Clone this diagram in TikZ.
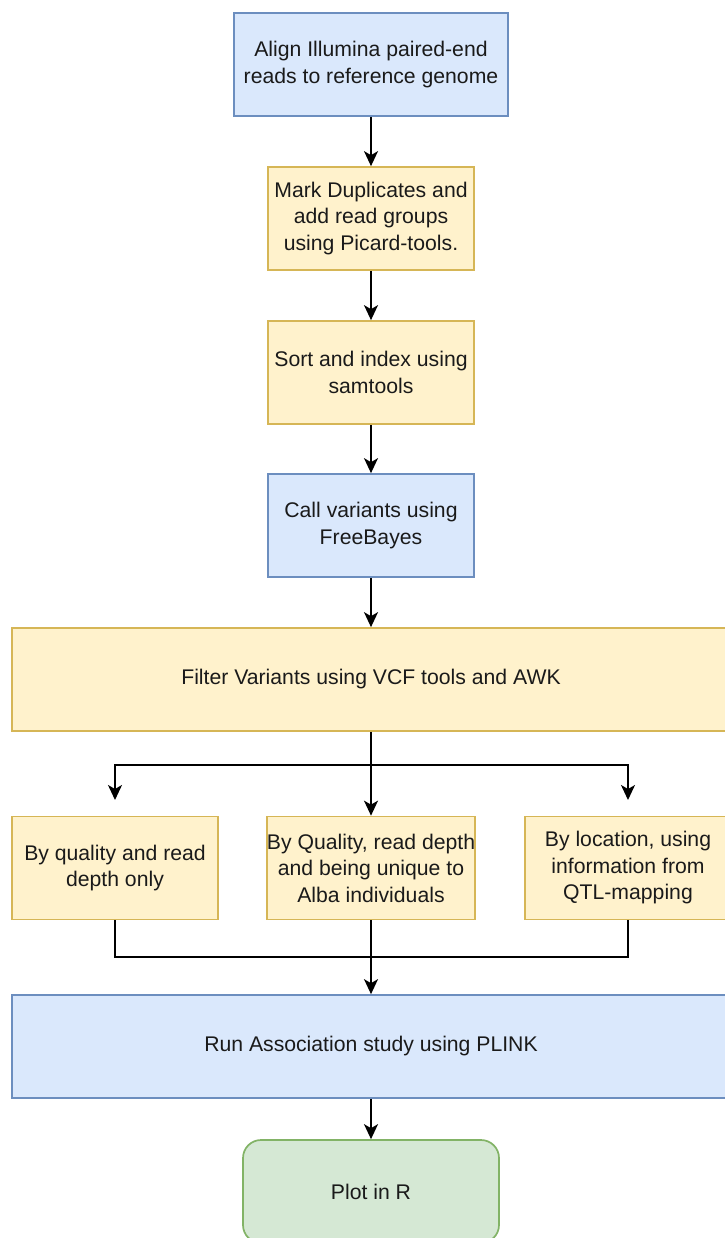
\documentclass[tikz,border=0pt]{standalone}
\usepackage{fontspec}
\setmainfont{Liberation Sans}
\usetikzlibrary{arrows.meta}
\definecolor{bluefill}{HTML}{DAE8FC}
\definecolor{blueline}{HTML}{6C8EBF}
\definecolor{yelfill}{HTML}{FFF2CC}
\definecolor{yelline}{HTML}{D6B656}
\definecolor{grnfill}{HTML}{D5E8D4}
\definecolor{grnline}{HTML}{82B366}
\definecolor{txt}{HTML}{1A1A1A}
\begin{document}
\begin{tikzpicture}[x=1pt,y=-1pt,
  box/.style={draw, line width=1.7pt, align=center, text=txt,
    font=\fontsize{21.2}{26.5}\selectfont, inner sep=0pt, minimum height=103pt},
  bluebox/.style={box, fill=bluefill, draw=blueline},
  yelbox/.style={box, fill=yelfill, draw=yelline},
  grnbox/.style={box, fill=grnfill, draw=grnline, rounded corners=18pt},
  arr/.style={-{Stealth[length=15pt,width=14pt,inset=4pt]}, line width=1.7pt},
  ln/.style={line width=1.7pt}
]
\useasboundingbox (0,0) rectangle (724,1238);
\node[bluebox, minimum width=274pt] (b1) at (371,64.5) {Align Illumina paired-end\\reads to reference genome};
\node[yelbox, minimum width=206pt] (b2) at (371,218.5) {Mark Duplicates and\\add read groups\\using Picard-tools.};
\node[yelbox, minimum width=206pt] (b3) at (371,372.5) {Sort and index using\\samtools};
\node[bluebox, minimum width=206pt] (b4) at (371,525.5) {Call variants using\\FreeBayes};
\node[yelbox, minimum width=718pt] (b5) at (371,679.5) {Filter Variants using VCF tools and AWK};
\node[yelbox, minimum width=206pt] (c1) at (115,868) {By quality and read\\depth only};
\node[yelbox, minimum width=206pt] (c2) at (371,868) {By Quality, read depth\\and being unique to\\Alba individuals};
\node[yelbox, minimum width=206pt] (c3) at (628,868) {By location, using\\information from\\QTL-mapping};
\node[bluebox, minimum width=718pt] (b6) at (371,1046.5) {Run Association study using PLINK};
\node[grnbox, minimum width=256pt] (b7) at (371,1191.5) {Plot in R};

\draw[arr] (b1) -- (b2);
\draw[arr] (b2) -- (b3);
\draw[arr] (b3) -- (b4);
\draw[arr] (b4) -- (b5);
\coordinate (j1) at (371,765);
\coordinate (l1) at (115,800);
\coordinate (r1) at (628,800);
\draw[ln] (b5.south) -- (j1);
\draw[arr] (j1) -- (c2.north);
\draw[arr] (j1) -| (l1);
\draw[arr] (j1) -| (r1);
\coordinate (m1) at (371,957);
\draw[ln] (c1.south) |- (m1);
\draw[ln] (c3.south) |- (m1);
\draw[arr] (c2.south) -- (b6.north);
\draw[arr] (b6) -- (b7);
\end{tikzpicture}
\end{document}
